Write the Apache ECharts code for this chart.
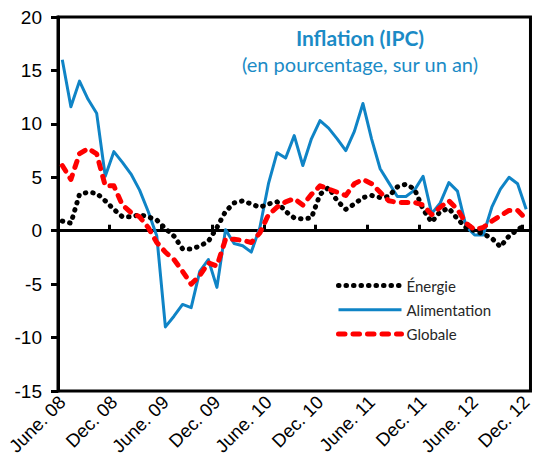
<!DOCTYPE html>
<html><head><meta charset="utf-8">
<script src="https://cdn.jsdelivr.net/npm/echarts@6/dist/echarts.min.js"></script>
<style>html,body{margin:0;padding:0;background:#fff}#c{width:535px;height:468px}</style>
</head><body><div id="c"></div>
<script>
const categories = [
  'June. 08','July. 08','Aug. 08','Sep. 08','Oct. 08','Nov. 08',
  'Dec. 08','Jan. 09','Feb. 09','Mar. 09','Apr. 09','May. 09',
  'June. 09','July. 09','Aug. 09','Sep. 09','Oct. 09','Nov. 09',
  'Dec. 09','Jan. 10','Feb. 10','Mar. 10','Apr. 10','May. 10',
  'June. 10','July. 10','Aug. 10','Sep. 10','Oct. 10','Nov. 10',
  'Dec. 10','Jan. 11','Feb. 11','Mar. 11','Apr. 11','May. 11',
  'June. 11','July. 11','Aug. 11','Sep. 11','Oct. 11','Nov. 11',
  'Dec. 11','Jan. 12','Feb. 12','Mar. 12','Apr. 12','May. 12',
  'June. 12','July. 12','Aug. 12','Sep. 12','Oct. 12','Nov. 12',
  'Dec. 12'
];
const energie = [
  0.9, 0.7, 3.4, 3.6, 3.5, 2.8,
  2.0, 1.3, 1.3, 1.5, 1.3, 1.0,
  0.2, -0.5, -1.7, -1.7, -1.45, -1.0,
  0.3, 1.8, 2.6, 2.8, 2.5, 2.2,
  2.5, 2.7, 1.8, 1.2, 1.1, 1.2,
  3.4, 4.05, 2.8, 2.0, 2.5, 3.1,
  3.3, 3.1, 3.2, 4.1, 4.35, 3.9,
  2.0, 0.8, 1.8, 2.1, 1.1, 0.3,
  0.0, -0.3, -0.7, -1.5, -0.5, 0.1,
  0.6
];
const alimentation = [
  16.0, 11.6, 14.0, 12.3, 11.0, 5.1,
  7.4, 6.4, 5.3, 3.8, 1.8, -0.5,
  -9.0, -8.0, -6.9, -7.2, -3.8, -2.7,
  -5.3, 0.1, -1.2, -1.4, -2.0, 0.3,
  4.4, 7.3, 6.8, 8.9, 6.1, 8.6,
  10.3, 9.6, 8.6, 7.5, 9.3, 11.9,
  8.6, 5.8, 4.5, 3.2, 3.2, 3.8,
  5.1, 1.6, 2.6, 4.5, 3.7, 0.4,
  -0.4, -0.4, 2.2, 3.9, 5.0, 4.4,
  2.0
];
const globale = [
  6.1, 4.8, 7.2, 7.7, 7.2, 4.2,
  4.2, 2.4, 1.7, 1.3, 0.3, -1.1,
  -2.0, -2.7, -3.8, -5.0, -4.2, -3.0,
  -3.3, -0.8, -0.8, -0.9, -1.1, -0.2,
  1.5, 2.2, 2.7, 3.0, 2.4, 3.4,
  4.2, 3.9, 3.6, 3.3, 4.4, 4.8,
  4.4, 3.6, 2.8, 2.65, 2.65, 2.65,
  2.4, 1.5, 2.2, 2.8, 2.0, 0.7,
  0.1, 0.3, 0.9, 1.4, 1.9, 1.9,
  1.1
];
const yMin = -15, yMax = 20, yStep = 5;
const seriesNames = ['Énergie', 'Alimentation', 'Globale'];
const titleText = 'Inflation (IPC)';
const subtitleText = '(en pourcentage, sur un an)';

const styles = [
  {color: '#000', width: 5, type: [0.5, 7], cap: 'round', join: 'round'},
  {color: '#0f84c6', width: 3, type: 'solid', cap: 'butt', join: 'round'},
  {color: '#ff0000', width: 5, type: [6.5, 8], cap: 'round', join: 'round'}
];

const chart = echarts.init(document.getElementById('c'), null, {renderer: 'svg'});
const axisFont = '"Liberation Sans", Arial, sans-serif';
const textFont = 'Lato, "Noto Sans", sans-serif';
chart.setOption({
  animation: false,
  backgroundColor: '#fff',
  title: {
    text: titleText,
    subtext: subtitleText,
    left: 355, top: 22,
    textAlign: 'center',
    itemGap: 6,
    textStyle: {color: '#1b8bc6', fontFamily: textFont, fontWeight: 'bold', fontSize: 21},
    subtextStyle: {color: '#1b8bc6', fontFamily: textFont, fontSize: 20}
  },
  legend: {
    orient: 'vertical',
    left: 331, top: 273,
    itemWidth: 63, itemHeight: 14, itemGap: 9.3,
    itemStyle: {opacity: 0},
    textStyle: {color: '#262626', fontFamily: textFont, fontSize: 15, lineHeight: 14},
    data: seriesNames.map((n, i) => ({name: n, lineStyle: Object.assign({}, styles[i]), itemStyle: {opacity: 0}}))
  },
  grid: {
    left: 58, top: 17, width: 475, height: 374,
    show: true, borderColor: '#000', borderWidth: 3, backgroundColor: 'transparent'
  },
  xAxis: [{
    type: 'category', data: categories, boundaryGap: true,
    axisLine: {onZero: true, lineStyle: {color: '#000', width: 3}},
    axisTick: {show: true, inside: true, length: 6, interval: 5, lineStyle: {color: '#000', width: 3}},
    axisLabel: {show: false},
    splitLine: {show: false}
  }, {
    type: 'category', data: categories, boundaryGap: true, position: 'bottom',
    axisLine: {show: false, onZero: false},
    axisTick: {show: false},
    axisLabel: {show: true, interval: 5, rotate: 45, margin: 8, color: '#000', fontFamily: axisFont, fontSize: 18.5},
    splitLine: {show: false}
  }],
  yAxis: {
    type: 'value', min: yMin, max: yMax, interval: yStep,
    axisLine: {show: true, lineStyle: {color: '#000', width: 3}},
    axisTick: {show: true, inside: false, length: 7, lineStyle: {color: '#000', width: 3}},
    axisLabel: {color: '#000', fontFamily: axisFont, fontSize: 19, margin: 16},
    splitLine: {show: false}
  },
  series: [{
    name: seriesNames[0], type: 'line', data: energie, xAxisIndex: 0,
    symbol: 'none', smooth: false, z: 3,
    lineStyle: styles[0], itemStyle: {color: styles[0].color}
  }, {
    name: seriesNames[1], type: 'line', data: alimentation, xAxisIndex: 0,
    symbol: 'none', smooth: false, z: 2,
    lineStyle: styles[1], itemStyle: {color: styles[1].color}
  }, {
    name: seriesNames[2], type: 'line', data: globale, xAxisIndex: 0,
    symbol: 'none', smooth: false, z: 4,
    lineStyle: styles[2], itemStyle: {color: styles[2].color}
  }]
});
</script>
</body></html>
